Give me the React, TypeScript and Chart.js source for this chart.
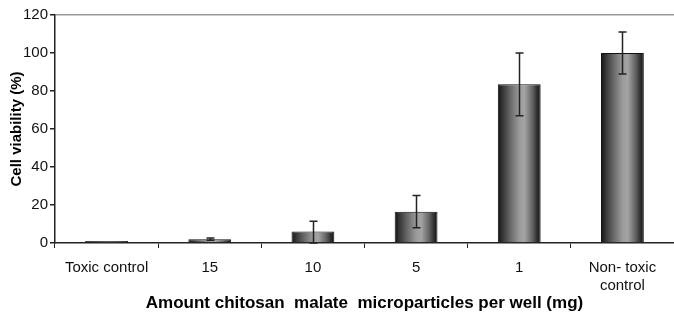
import React, { useEffect, useRef } from "react";
import { Chart, registerables } from "chart.js";

Chart.register(...registerables);

const categories: (string | string[])[] = ["Toxic control", "15", "10", "5", "1", ["Non- toxic", "control"]];
const viability = [1, 2, 6, 16.5, 83.5, 100];
const errUp = [0, 0.6, 5.5, 8.5, 16.5, 11];
const errDown = [0, 0.6, 6, 8.5, 16.5, 11];
const yTicks = [0, 20, 40, 60, 80, 100, 120];

const CAT_PCT = 0.83;
const BAR_PCT = 0.5;

const errorBarPlugin = {
  id: "errorBars",
  afterDatasetsDraw(chart: any) {
    const { ctx, scales } = chart;
    const x = scales.x;
    const y = scales.y;
    ctx.save();
    ctx.strokeStyle = "#222";
    ctx.lineWidth = 1.5;
    viability.forEach((v, i) => {
      if (!errUp[i] && !errDown[i]) return;
      const cx = Math.round(x.getPixelForValue(i)) + 0.5;
      const top = y.getPixelForValue(v + errUp[i]);
      const bot = y.getPixelForValue(Math.max(0, v - errDown[i]));
      const cap = 4;
      ctx.beginPath();
      ctx.moveTo(cx, top);
      ctx.lineTo(cx, bot);
      ctx.moveTo(cx - cap, top);
      ctx.lineTo(cx + cap, top);
      ctx.moveTo(cx - cap, bot);
      ctx.lineTo(cx + cap, bot);
      ctx.stroke();
    });
    ctx.restore();
  },
};

function barFill(context: any) {
  const chart = context.chart;
  const { ctx, chartArea, scales } = chart;
  if (!chartArea || !scales.x) return "#777";
  const i = context.dataIndex;
  const cx = scales.x.getPixelForValue(i);
  const catW = (chartArea.right - chartArea.left) / categories.length;
  const w = catW * CAT_PCT * BAR_PCT;
  const g = ctx.createLinearGradient(cx - w / 2, 0, cx + w / 2, 0);
  g.addColorStop(0, "#111");
  g.addColorStop(0.1, "#333");
  g.addColorStop(0.3, "#6a6a6a");
  g.addColorStop(0.5, "#9a9a9a");
  g.addColorStop(0.62, "#a4a4a4");
  g.addColorStop(0.8, "#666");
  g.addColorStop(0.93, "#2a2a2a");
  g.addColorStop(1, "#111");
  return g;
}

const FONT = "Liberation Sans, Arial, sans-serif";

export default function App() {
  const ref = useRef<HTMLCanvasElement | null>(null);
  useEffect(() => {
    if (!ref.current) return;
    const chart = new Chart(ref.current, {
      type: "bar",
      data: {
        labels: categories as any,
        datasets: [
          {
            data: viability,
            backgroundColor: barFill as any,
            borderColor: "#111",
            borderWidth: 1,
            categoryPercentage: CAT_PCT,
            barPercentage: BAR_PCT,
          },
        ],
      },
      options: {
        animation: false,
        responsive: true,
        maintainAspectRatio: false,
        layout: { padding: { top: 15, right: 0, left: 0, bottom: 0 } },
        plugins: { legend: { display: false }, tooltip: { enabled: false } },
        scales: {
          x: {
            grid: {
              offset: true,
              drawOnChartArea: false,
              tickLength: 5,
              tickColor: "#222",
              tickWidth: 1,
            },
            border: { color: "#222", width: 1.5 },
            ticks: {
              color: "#111",
              font: { family: FONT, size: 15, lineHeight: 1.25 },
              padding: 10,
              maxRotation: 0,
              autoSkip: false,
            },
            title: {
              display: true,
              text: "Amount chitosan  malate  microparticles per well (mg)",
              color: "#000",
              font: { family: FONT, size: 17, weight: "bold" },
              padding: { top: 4, bottom: 6 },
            },
            afterFit: (axis: any) => {
              axis.height = 77;
            },
          },
          y: {
            min: 0,
            max: 120,
            afterBuildTicks: (axis: any) => {
              axis.ticks = yTicks.map((v) => ({ value: v }));
            },
            grid: {
              drawOnChartArea: true,
              color: (c: any) => (c.tick && c.tick.value === 120 ? "#9a9a9a" : "rgba(0,0,0,0)"),
              lineWidth: 1.5,
              tickLength: 5,
              tickColor: "#222",
            },
            border: { color: "#222", width: 1.5 },
            ticks: {
              color: "#111",
              font: { family: FONT, size: 15 },
              padding: 2,
            },
            title: {
              display: true,
              text: "Cell viability (%)",
              color: "#000",
              font: { family: FONT, size: 15, weight: "bold" },
              padding: { top: 8, bottom: 2 },
            },
            afterFit: (axis: any) => {
              axis.width = 55;
            },
          },
        },
      },
      plugins: [errorBarPlugin],
    });
    return () => chart.destroy();
  }, []);
  return (
    <div style={{ position: "fixed", left: 0, top: 0, width: 674, height: 320, background: "#fff" }}>
      <canvas ref={ref} />
    </div>
  );
}
